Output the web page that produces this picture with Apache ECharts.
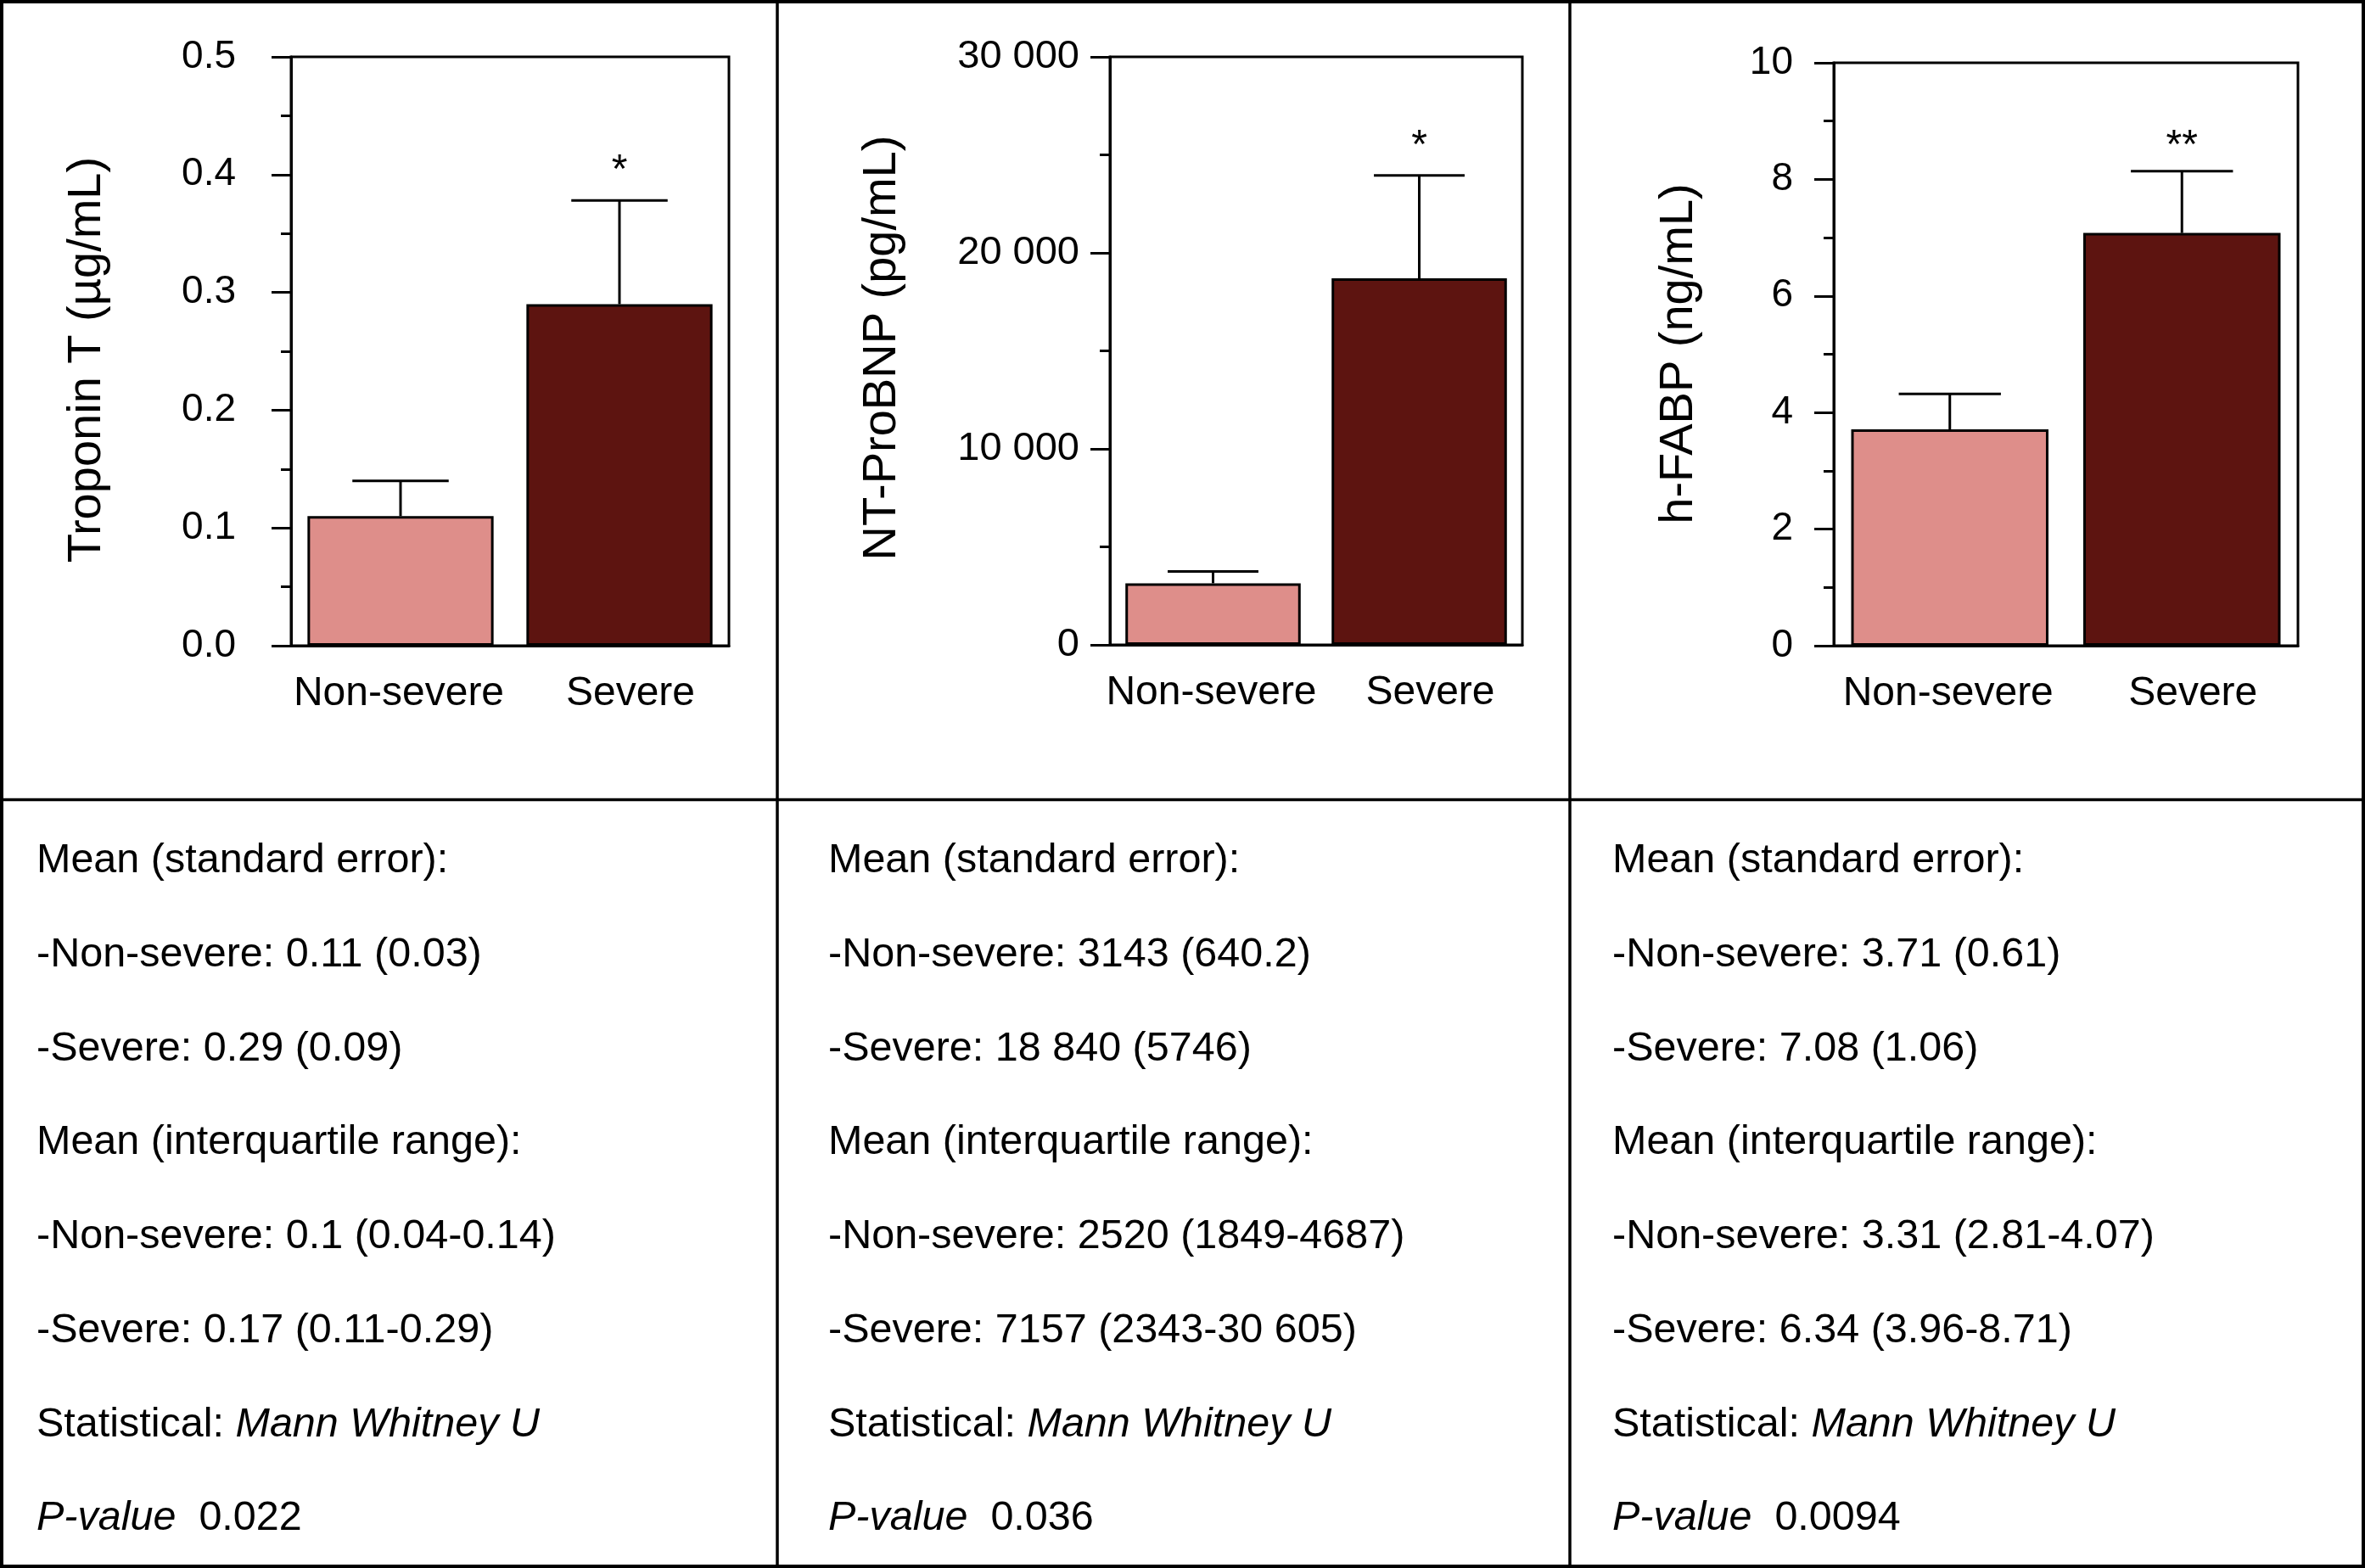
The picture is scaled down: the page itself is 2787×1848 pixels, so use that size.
<!DOCTYPE html>
<html>
<head>
<meta charset="utf-8">
<script src="https://cdn.jsdelivr.net/npm/echarts@6/dist/echarts.min.js"></script>
<style>
html,body{margin:0;padding:0;background:#fff;}
#chart{width:2787px;height:1848px;}
</style>
</head>
<body>
<div id="chart"></div>
<script>
// ---------- data ----------
const categories = ['Non-severe', 'Severe'];

const troponinMean  = [0.11, 0.29];
const troponinUpper = [0.14, 0.378];
const troponinStars = ['', '*'];

const ntprobnpMean  = [3143, 18700];
const ntprobnpUpper = [3750, 23950];
const ntprobnpStars = ['', '*'];

const hfabpMean  = [3.71, 7.08];
const hfabpUpper = [4.32, 8.14];
const hfabpStars = ['', '**'];

const yTitles = ['Troponin T (\u00b5g/mL)', 'NT-ProBNP (pg/mL)', 'h-FABP (ng/mL)'];

const tableTroponin = [
  'Mean (standard error):',
  '-Non-severe: 0.11 (0.03)',
  '-Severe: 0.29 (0.09)',
  'Mean (interquartile range):',
  '-Non-severe: 0.1 (0.04-0.14)',
  '-Severe: 0.17 (0.11-0.29)'
];
const tableNtprobnp = [
  'Mean (standard error):',
  '-Non-severe: 3143 (640.2)',
  '-Severe: 18 840 (5746)',
  'Mean (interquartile range):',
  '-Non-severe: 2520 (1849-4687)',
  '-Severe: 7157 (2343-30 605)'
];
const tableHfabp = [
  'Mean (standard error):',
  '-Non-severe: 3.71 (0.61)',
  '-Severe: 7.08 (1.06)',
  'Mean (interquartile range):',
  '-Non-severe: 3.31 (2.81-4.07)',
  '-Severe: 6.34 (3.96-8.71)'
];
const statTest = 'Mann Whitney U';
const pValues = ['0.022', '0.036', '0.0094'];

// ---------- styling ----------
const FONT = "'Liberation Sans', Arial, Helvetica, sans-serif";
const PINK = '#DE8E8A';
const DARK = '#5D1410';
const BLACK = '#000';

const chart = echarts.init(document.getElementById('chart'), null, {renderer: 'canvas'});

const grids = [
  {left: 343,  top: 67, width: 516, height: 694},
  {left: 1308, top: 67, width: 486, height: 693},
  {left: 2161, top: 74, width: 547, height: 687}
];

const yCfg = [
  {min: 0, max: 0.5, interval: 0.1, margin: 65, fs: 46, fmt: v => v.toFixed(1)},
  {min: 0, max: 30000, interval: 10000, margin: 36, fs: 47, fmt: v => v === 0 ? '0' : (v / 1000) + ' 000'},
  {min: 0, max: 10, interval: 2, margin: 48, fs: 46, fmt: v => String(v)}
];
const starGap = [35, 34, 29];

const means = [troponinMean, ntprobnpMean, hfabpMean];
const uppers = [troponinUpper, ntprobnpUpper, hfabpUpper];
const stars = [troponinStars, ntprobnpStars, hfabpStars];

function errRender(starArr, gap) {
  return function (params, api) {
    const idx = api.value(0);
    const mean = api.value(1);
    const up = api.value(2);
    const p0 = api.coord([idx, mean]);
    const p1 = api.coord([idx, up]);
    const bw = api.size([1, 0])[0];
    const half = bw * 0.44 / 2;
    const children = [
      {type: 'line', shape: {x1: p0[0], y1: p0[1], x2: p1[0], y2: p1[1]},
       style: {stroke: BLACK, lineWidth: 3}},
      {type: 'line', shape: {x1: p1[0] - half, y1: p1[1], x2: p1[0] + half, y2: p1[1]},
       style: {stroke: BLACK, lineWidth: 3}}
    ];
    const s = starArr[params.dataIndex];
    if (s) {
      children.push({type: 'text', x: p1[0], y: p1[1] - gap,
        style: {text: s, font: '48px ' + FONT, fill: BLACK, align: 'center', verticalAlign: 'middle'}});
    }
    return {type: 'group', children: children};
  };
}

const xAxes = [], yAxes = [], series = [];
for (let i = 0; i < 3; i++) {
  xAxes.push({
    type: 'category', gridIndex: i, data: categories,
    axisLine: {lineStyle: {color: BLACK, width: 3}},
    axisTick: {show: false},
    axisLabel: {
      color: BLACK, fontSize: 48, fontFamily: FONT, margin: 33, interval: 0, hideOverlap: false,
      formatter: (v, k) => k === 1 ? '{s|' + v + '}' : '{n|' + v + '}',
      rich: {
        n: {fontSize: 48, fontFamily: FONT, color: BLACK, padding: [0, 4, 0, 0]},
        s: {fontSize: 48, fontFamily: FONT, color: BLACK, padding: [0, 0, 0, 26]}
      }
    }
  });
  yAxes.push({
    type: 'value', gridIndex: i, min: yCfg[i].min, max: yCfg[i].max, interval: yCfg[i].interval,
    axisLine: {show: true, lineStyle: {color: BLACK, width: 3}},
    axisTick: {show: true, length: 23, lineStyle: {color: BLACK, width: 3}},
    minorTick: {show: true, splitNumber: 2, length: 12, lineStyle: {color: BLACK, width: 3}},
    splitLine: {show: false},
    axisLabel: {color: BLACK, fontSize: yCfg[i].fs, fontFamily: FONT, margin: yCfg[i].margin, formatter: yCfg[i].fmt}
  });
  series.push({
    type: 'bar', xAxisIndex: i, yAxisIndex: i, barWidth: '85%',
    data: means[i].map((v, k) => ({value: v, itemStyle: {color: k === 0 ? PINK : DARK}})),
    itemStyle: {borderColor: BLACK, borderWidth: 3},
    emphasis: {disabled: true},
    animation: false
  });
  series.push({
    type: 'custom', xAxisIndex: i, yAxisIndex: i,
    data: means[i].map((v, k) => [k, v, uppers[i][k]]),
    encode: {x: 0, y: [1, 2]},
    renderItem: errRender(stars[i], starGap[i]),
    z: 3,
    animation: false
  });
}

// ---------- graphic: frame, titles, table ----------
const graphic = [];
graphic.push({type: 'rect', shape: {x: 2, y: 2, width: 2783, height: 1844},
  style: {fill: 'none', stroke: BLACK, lineWidth: 4}, silent: true});
graphic.push({type: 'line', shape: {x1: 0, y1: 942.5, x2: 2787, y2: 942.5},
  style: {stroke: BLACK, lineWidth: 3.5}, silent: true});
graphic.push({type: 'line', shape: {x1: 916, y1: 0, x2: 916, y2: 1848},
  style: {stroke: BLACK, lineWidth: 3.5}, silent: true});
graphic.push({type: 'line', shape: {x1: 1850, y1: 0, x2: 1850, y2: 1848},
  style: {stroke: BLACK, lineWidth: 3.5}, silent: true});

const titlePos = [[103, 424], [1040, 410], [1979, 417]];
for (let i = 0; i < 3; i++) {
  graphic.push({type: 'text', x: titlePos[i][0], y: titlePos[i][1], rotation: Math.PI / 2,
    style: {text: yTitles[i], font: '56px ' + FONT, fill: BLACK, align: 'center', verticalAlign: 'middle'},
    silent: true});
}

const tables = [tableTroponin, tableNtprobnp, tableHfabp];
const tableX = [43, 976, 1900];
const rowY0 = 1015, rowStep = 110.7;
const richStyles = {
  n: {font: '48.5px ' + FONT, fill: BLACK},
  i: {font: 'italic 48.5px ' + FONT, fill: BLACK}
};
for (let p = 0; p < 3; p++) {
  const lines = tables[p].map(t => '{n|' + t + '}');
  lines.push('{n|Statistical: }{i|' + statTest + '}');
  lines.push('{i|P-value}{n|  ' + pValues[p] + '}');
  lines.forEach((txt, r) => {
    graphic.push({type: 'text', x: tableX[p], y: rowY0 + r * rowStep,
      style: {text: txt, rich: richStyles, font: '48.5px ' + FONT, fill: BLACK, align: 'left', verticalAlign: 'middle'},
      silent: true});
  });
}

chart.setOption({
  backgroundColor: '#fff',
  animation: false,
  grid: grids.map(g => Object.assign({show: true, borderColor: BLACK, borderWidth: 3, backgroundColor: 'transparent'}, g)),
  xAxis: xAxes,
  yAxis: yAxes,
  series: series,
  graphic: graphic
});
</script>
</body>
</html>
